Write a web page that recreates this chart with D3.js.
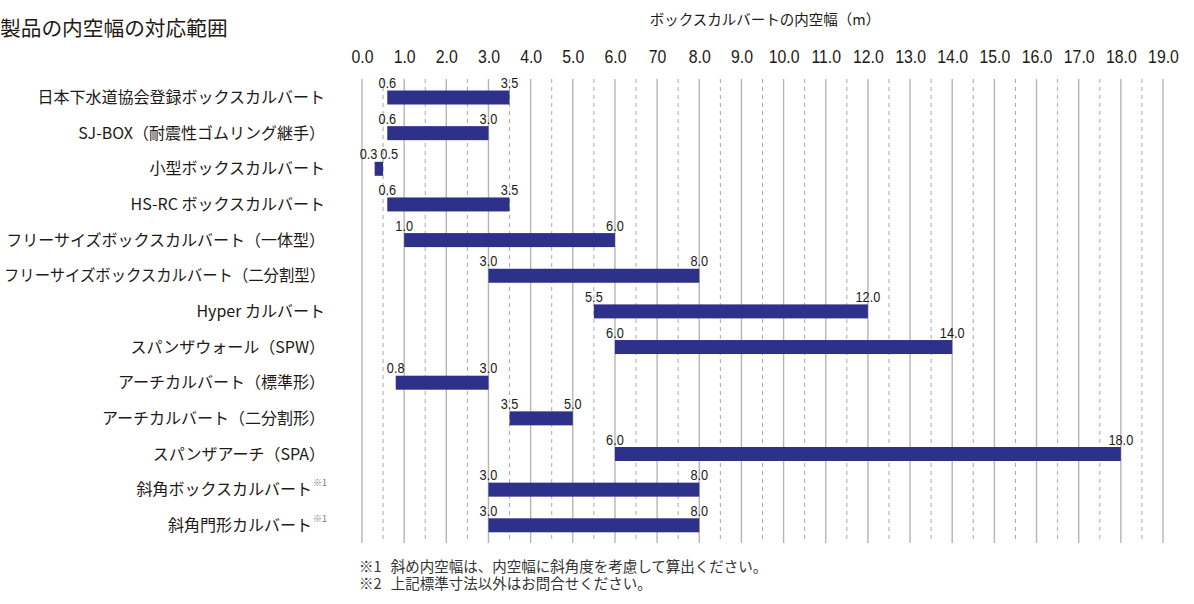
<!DOCTYPE html>
<html>
<head>
<meta charset="utf-8">
<script src="https://cdn.jsdelivr.net/npm/d3@7"></script>
<style>
  body { margin: 0; background: #fff; }
  svg { display: block; }
  .jp { font-family: "Noto Sans CJK JP", "Noto Sans", sans-serif; fill: #231815; }
  .num { font-family: "Liberation Sans", Arial, sans-serif; fill: #231815; }
</style>
</head>
<body>
<svg id="chart"></svg>
<script>
// === Data ===
const products = [
  "日本下水道協会登録ボックスカルバート",
  "SJ-BOX（耐震性ゴムリング継手）",
  "小型ボックスカルバート",
  "HS-RC ボックスカルバート",
  "フリーサイズボックスカルバート（一体型）",
  "フリーサイズボックスカルバート（二分割型）",
  "Hyper カルバート",
  "スパンザウォール（SPW）",
  "アーチカルバート（標準形）",
  "アーチカルバート（二分割形）",
  "スパンザアーチ（SPA）",
  "斜角ボックスカルバート",
  "斜角門形カルバート"
];
const noteMarks = ["", "", "", "", "", "", "", "", "", "", "", "※1", "※1"];
const minWidth = [0.6, 0.6, 0.3, 0.6, 1.0, 3.0, 5.5, 6.0, 0.8, 3.5, 6.0, 3.0, 3.0];
const maxWidth = [3.5, 3.0, 0.5, 3.5, 6.0, 8.0, 12.0, 14.0, 3.0, 5.0, 18.0, 8.0, 8.0];
const tickValues = d3.range(0, 20);
const tickLabels = ["0.0", "1.0", "2.0", "3.0", "4.0", "5.0", "6.0", "70", "8.0", "9.0", "10.0",
  "11.0", "12.0", "13.0", "14.0", "15.0", "16.0", "17.0", "18.0", "19.0"];
const title = "製品の内空幅の対応範囲";
const axisTitle = "ボックスカルバートの内空幅（m）";
const notes = [
  "※1 斜め内空幅は、内空幅に斜角度を考慮して算出ください。",
  "※2 上記標準寸法以外はお問合せください。"
];

// === Chart ===
const svg = d3.select("#chart").attr("width", 1194).attr("height", 604);
const gridTop = 79, gridBottom = 543;
const squeeze = 0.88;   // numbers are set in a narrow face in the original

const x = d3.scaleLinear().domain([0, 19]).range([362, 1163]);
const y = d3.scalePoint().domain(products).range([97.5, 525.3]);
const barH = 14;

function numText(parent, px, py, str, size, anchor) {
  parent.append("g").attr("transform", `translate(${px},${py}) scale(${squeeze},1)`)
    .append("text").attr("class", "num").attr("text-anchor", anchor)
    .style("font-size", size + "px").text(str);
}

svg.append("text").attr("class", "jp").attr("x", 0).attr("y", 27)
  .attr("dominant-baseline", "central").style("font-size", "20.7px").text(title);

svg.append("text").attr("class", "jp").attr("x", 765).attr("y", 18)
  .attr("text-anchor", "middle").attr("dominant-baseline", "central")
  .style("font-size", "14.5px").text(axisTitle);

// tick labels along the top
const axis = svg.append("g").attr("transform", "translate(0,63)")
  .call(d3.axisTop(x).tickValues(tickValues).tickSize(0).tickPadding(0)
    .tickFormat((d, i) => tickLabels[i]));
axis.select(".domain").remove();
axis.selectAll("text").attr("class", "num").attr("fill", "#231815")
  .style("font-size", "18px").attr("transform", `scale(${squeeze},1)`);

// grid: solid at whole metres, dashed at half metres
svg.append("g").selectAll("line").data(tickValues).enter().append("line")
  .attr("x1", d => x(d)).attr("x2", d => x(d))
  .attr("y1", gridTop).attr("y2", gridBottom)
  .attr("stroke", "#b5b5b5").attr("stroke-width", 1.4);
svg.append("g").selectAll("line").data(tickValues.slice(0, -1)).enter().append("line")
  .attr("x1", d => x(d + 0.5)).attr("x2", d => x(d + 0.5))
  .attr("y1", gridTop).attr("y2", gridBottom)
  .attr("stroke", "#a8a8a8").attr("stroke-width", 1).attr("stroke-dasharray", "4,4");

// row labels
const labelRight = 325, labelMax = 321;
svg.append("g").selectAll("text").data(products).enter().append("text")
  .attr("class", "jp").attr("y", d => y(d) - 1.5)
  .attr("x", (d, i) => noteMarks[i] ? labelRight - 13 : labelRight)
  .attr("text-anchor", "end").attr("dominant-baseline", "central")
  .style("font-size", "16px").text(d => d)
  .each(function() {
    if (this.getComputedTextLength() > labelMax) {
      d3.select(this).attr("textLength", labelMax).attr("lengthAdjust", "spacingAndGlyphs");
    }
  });
products.forEach((p, i) => {
  if (!noteMarks[i]) return;
  svg.append("text").attr("class", "jp").attr("x", labelRight - 12).attr("y", y(p) - 7)
    .attr("dominant-baseline", "central").style("font-size", "9px")
    .style("fill", "#777").text(noteMarks[i]);
});

// bars
const rows = products.map((p, i) => ({ name: p, lo: minWidth[i], hi: maxWidth[i] }));
svg.append("g").selectAll("rect").data(rows).enter().append("rect")
  .attr("x", d => x(d.lo)).attr("y", d => y(d.name) - barH / 2)
  .attr("width", d => x(d.hi) - x(d.lo)).attr("height", barH)
  .attr("fill", "#2e3189");

// value labels above the bar ends
const vals = svg.append("g");
rows.forEach(d => {
  const narrow = x(d.hi) - x(d.lo) < 20;
  const mid = (x(d.lo) + x(d.hi)) / 2;
  const base = y(d.name) - barH / 2 - 2.5;
  numText(vals, narrow ? mid - 1.5 : x(d.lo), base, d.lo.toFixed(1), 14.5, narrow ? "end" : "middle");
  numText(vals, narrow ? mid + 1.5 : x(d.hi), base, d.hi.toFixed(1), 14.5, narrow ? "start" : "middle");
});

// footnotes, one text block with a line per note
svg.append("text").attr("class", "jp").attr("y", 572)
  .style("font-size", "14.5px").style("word-spacing", "6px").style("fill", "#333")
  .selectAll("tspan").data(notes).enter().append("tspan")
  .attr("x", 359).attr("dy", (d, i) => i ? 16.5 : 0).text(d => d);
</script>
</body>
</html>
